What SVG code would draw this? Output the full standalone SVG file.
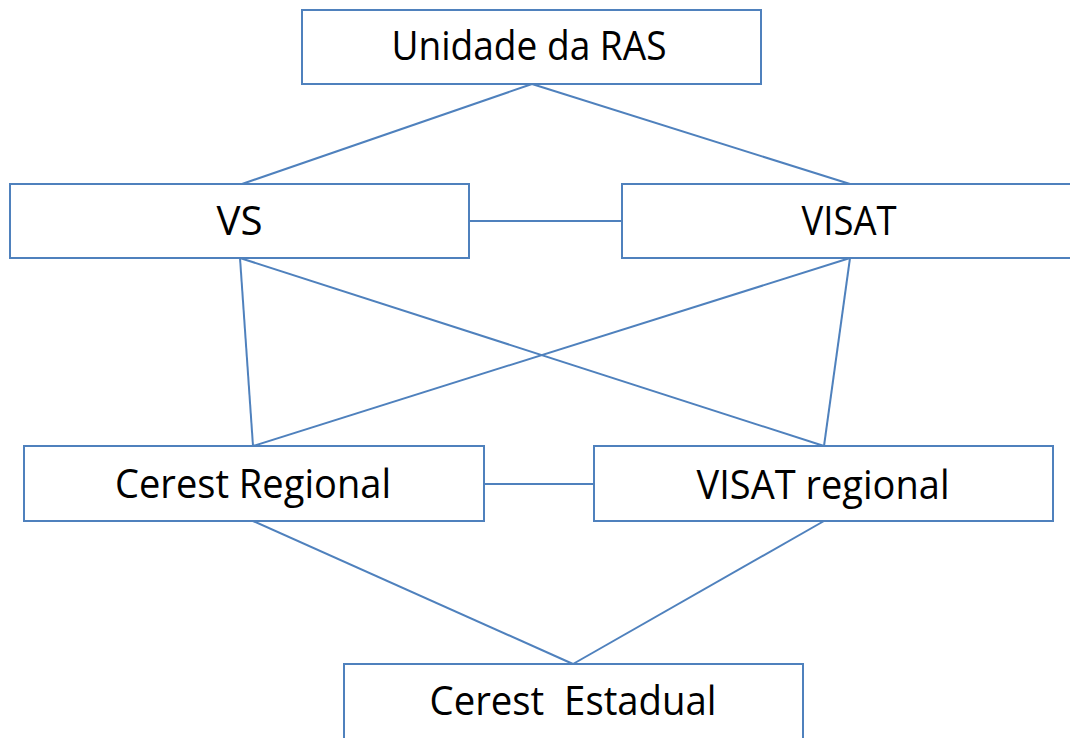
<svg xmlns="http://www.w3.org/2000/svg" width="1070" height="738" viewBox="0 0 1070 738">
<style>
.box{fill:#fff;stroke:#4F81BD;stroke-width:2}
.ln{stroke:#4F81BD;stroke-width:2;fill:none}
.t{font-family:"Open Sans","Noto Sans",sans-serif;font-size:40px;fill:#000;text-anchor:middle}
</style>
<rect width="1070" height="738" fill="#fff"/>
<g id="connectors">
<line class="ln" x1="532" y1="84" x2="242" y2="184"/>
<line class="ln" x1="532" y1="84" x2="850" y2="184"/>
<line class="ln" x1="469" y1="221" x2="622" y2="221"/>
<line class="ln" x1="240" y1="258" x2="253" y2="446"/>
<line class="ln" x1="240" y1="258" x2="824" y2="446"/>
<line class="ln" x1="850" y1="258" x2="253" y2="446"/>
<line class="ln" x1="850" y1="258" x2="824" y2="446"/>
<line class="ln" x1="484" y1="484" x2="594" y2="484"/>
<line class="ln" x1="253" y1="521" x2="573" y2="664"/>
<line class="ln" x1="824" y1="521" x2="573" y2="664"/>
</g>
<g id="unidade">
<rect class="box" x="302" y="10" width="459" height="74"/>
<text class="t" x="529" y="60" textLength="275" lengthAdjust="spacingAndGlyphs">Unidade da RAS</text>
</g>
<g id="vs">
<rect class="box" x="10" y="184" width="459" height="74"/>
<text class="t" x="239.5" y="235" textLength="46" lengthAdjust="spacingAndGlyphs">VS</text>
</g>
<g id="visat">
<rect class="box" x="622" y="184" width="470" height="74"/>
<text class="t" x="849" y="235" textLength="95" lengthAdjust="spacingAndGlyphs">VISAT</text>
</g>
<g id="cerest-regional">
<rect class="box" x="24" y="446" width="460" height="75"/>
<text class="t" x="253" y="498" textLength="276" lengthAdjust="spacingAndGlyphs">Cerest Regional</text>
</g>
<g id="visat-regional">
<rect class="box" x="594" y="446" width="459" height="75"/>
<text class="t" x="823" y="499" textLength="253" lengthAdjust="spacingAndGlyphs">VISAT regional</text>
</g>
<g id="cerest-estadual">
<rect class="box" x="344" y="664" width="459" height="80"/>
<text class="t" x="573" y="715" textLength="287" lengthAdjust="spacingAndGlyphs" xml:space="preserve">Cerest  Estadual</text>
</g>
</svg>
